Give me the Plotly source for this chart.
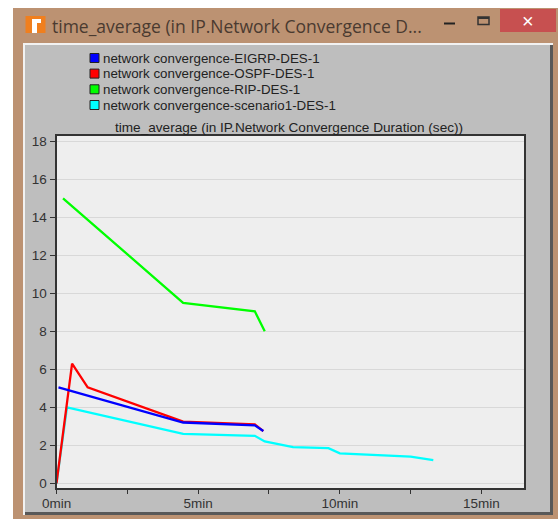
import plotly.graph_objects as go

W, H = 558, 519

series_names = ["network convergence-EIGRP-DES-1", "network convergence-OSPF-DES-1",
                "network convergence-RIP-DES-1", "network convergence-scenario1-DES-1"]
series_colors = ["#0000FF", "#FF0000", "#00FF00", "#00FFFF"]

eigrp_x = [0.07, 4.47, 7.0, 7.3]
eigrp_y = [5.05, 3.2, 3.05, 2.75]
ospf_x = [0, 0.55, 1.1, 4.47, 7.0, 7.3]
ospf_y = [0, 6.3, 5.05, 3.25, 3.1, 2.75]
rip_x = [0.23, 4.47, 7.0, 7.35]
rip_y = [15.0, 9.5, 9.05, 8.0]
scen_x = [0, 0.37, 4.47, 7.0, 7.35, 8.35, 9.6, 10.0, 12.5, 13.3]
scen_y = [0, 4.0, 2.6, 2.5, 2.2, 1.9, 1.85, 1.58, 1.4, 1.22]

x_ticks = [0, 2.5, 5, 7.5, 10, 12.5, 15]
x_labels = ["0min", "", "5min", "", "10min", "", "15min"]
y_ticks = [0, 2, 4, 6, 8, 10, 12, 14, 16, 18]

window_title = "time_average (in IP.Network Convergence D..."
chart_title = "time_average (in IP.Network Convergence Duration (sec))"

FONT = "Liberation Sans"
L, R, T, B = 56.5, 524, 136, 488
LEGEND_ROWS = [58, 73.6, 89.3, 105]


def rect(x0, y0, x1, y1, fill, line=None, lw=0):
    return dict(type="rect", xref="paper", yref="paper", layer="below",
                x0=x0 / W, x1=x1 / W, y0=1 - y0 / H, y1=1 - y1 / H,
                fillcolor=fill, line=dict(color=line or fill, width=lw))


def label(text, x, y, size, color, anchor="left", family=FONT):
    return dict(text=text, x=x / W, y=1 - y / H, xref="paper", yref="paper", xanchor=anchor,
                yanchor="middle", showarrow=False, font=dict(family=family, size=size, color=color))


fig = go.Figure()

# draw order: later series lie beneath earlier ones
for xs, ys, c in [(scen_x, scen_y, series_colors[3]), (rip_x, rip_y, series_colors[2]),
                  (ospf_x, ospf_y, series_colors[1]), (eigrp_x, eigrp_y, series_colors[0])]:
    fig.add_trace(go.Scatter(x=xs, y=ys, mode="lines", showlegend=False, hoverinfo="skip",
                             line=dict(color=c, width=2.3)))

shapes = [
    rect(13, 8, 558, 519, "#BC9272"),      # window frame
    rect(23, 43, 553, 515, "#F2F2F2"),     # panel highlight
    rect(25, 45, 553, 515, "#585858"),     # panel shade
    rect(25, 45, 550, 512, "#BEBEBE"),     # panel
    rect(L, T, R, B, "#EEEEEE"),           # plot area
    rect(500, 9, 556, 32, "#C75050"),      # close button
    rect(25.5, 16, 45.5, 33, "#F07F1E"),   # icon
    rect(32, 19, 37, 33, "#FFFFFF"),
    rect(32, 19, 41, 23, "#FFFFFF"),
    rect(444, 22.5, 455, 24.5, "#222222"), # minimise
    rect(478, 17, 489, 24.5, "rgba(0,0,0,0)", "#333333", 1.5),  # maximise
    rect(478, 17, 489, 19, "#333333"),
]

annotations = [
    label(window_title, 49.5, 26, 17.5, "#4A3A30", family="Open Sans"),
    label(chart_title, 289, 127, 13.6, "#222222", anchor="center"),
    label("\u00d7", 528, 21, 20, "#FFFFFF", anchor="center"),
]

for name, c, row in zip(series_names, series_colors, LEGEND_ROWS):
    shapes.append(rect(90, row - 4.5, 99, row + 4.5, c, "#222222", 1))
    annotations.append(label(name, 101, row, 13.35, "#222222"))

fig.update_layout(
    width=W, height=H, margin=dict(l=0, r=0, t=0, b=0), autosize=False,
    paper_bgcolor="#FFFFFF", plot_bgcolor="rgba(0,0,0,0)",
    font=dict(family=FONT, size=13.5, color="#333333"),
    shapes=shapes, annotations=annotations, showlegend=False,
    xaxis=dict(domain=[L / W, R / W], range=[0, (R - L) / 28.33], tickvals=x_ticks, ticktext=x_labels,
               automargin=False, ticks="outside", ticklen=4, tickcolor="#333333", showgrid=False, zeroline=False,
               showline=True, linecolor="#333333", linewidth=2, mirror=True, ticklabelstandoff=-2),
    yaxis=dict(domain=[1 - B / H, 1 - T / H], range=[(483.3 - B) / 19, (483.3 - T) / 19], tickvals=y_ticks,
               automargin=False, ticks="outside", ticklen=5, tickcolor="#333333", showgrid=True, gridcolor="#D8D8D8",
               gridwidth=1, zeroline=False, showline=True, linecolor="#333333", linewidth=2, mirror=True),
)

fig.write_html("out.html", config={"displayModeBar": False},
               post_script="document.body.style.margin='0';document.body.style.overflow='hidden';")
